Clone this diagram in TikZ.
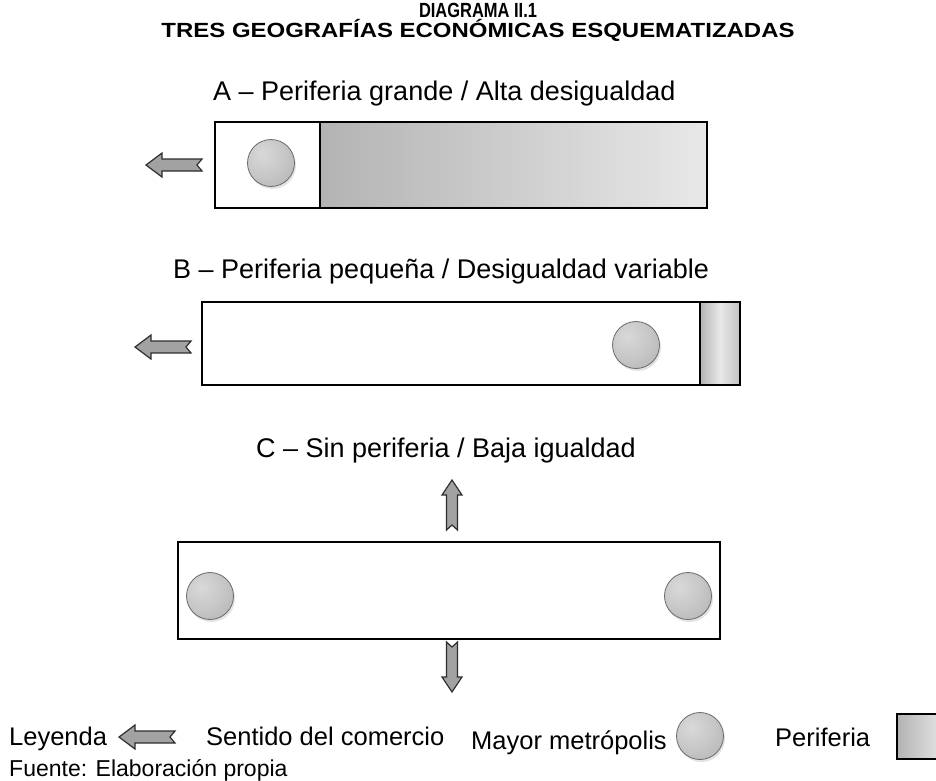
\documentclass[tikz,border=0pt]{standalone}
\usepackage{fontspec}
\setmainfont{Liberation Sans}
\usetikzlibrary{shadows}
\definecolor{arrowgray}{HTML}{A2A2A2}
\definecolor{arrowedge}{HTML}{2E2E2E}
\definecolor{circedge}{HTML}{6A6A6A}
\definecolor{perdark}{HTML}{B3B3B3}
\definecolor{perlight}{HTML}{E8E8E8}
\pgfdeclareradialshading{metroshade}{\pgfpoint{-10bp}{10bp}}{%
  color(0bp)=(gray!30); color(22bp)=(gray!44); color(45bp)=(gray!62); color(62bp)=(gray!76); color(100bp)=(gray!76)}
\tikzset{
  bodytext/.style={inner sep=0pt, font=\fontsize{25.5}{30}\selectfont},
  labeltext/.style={inner sep=0pt, font=\fontsize{27}{32}\selectfont},
  titletext/.style={inner sep=0pt, font=\fontsize{20.5}{24}\selectfont\bfseries},
  boxline/.style={draw=black, line width=1.6pt},
  metro/.style={circle, minimum size=47pt, inner sep=0pt, draw=circedge, line width=0.8pt,
     shading=metroshade,
     drop shadow={shadow xshift=1.5pt, shadow yshift=-2.5pt, opacity=0.22, fill=gray}},
  trade/.style={fill=arrowgray, draw=arrowedge, line width=1.2pt, line join=miter},
  harrow/.pic={\draw[trade] (0,0) -- (16,-12) -- (16,-6) -- (56,-6) -- (51,0) -- (56,6) -- (16,6) -- (16,12) -- cycle;},
  varrow/.pic={\draw[trade] (0,0) -- (-10,15) -- (-5.5,15) -- (-5.5,50) -- (0,45) -- (5.5,50) -- (5.5,15) -- (10,15) -- cycle;}
}
\begin{document}
\begin{tikzpicture}[x=1pt,y=-1pt]
\useasboundingbox (0,0) rectangle (936,780);
\fill[white] (0,0) rectangle (936,780);
% title
\node[titletext, anchor=base] (t1) at (478,17) {\resizebox{118pt}{\height}{DIAGRAMA II.1}};
\node[titletext, anchor=base] (t2) at (478,37) {\resizebox{633pt}{\height}{TRES GEOGRAFÍAS ECONÓMICAS ESQUEMATIZADAS}};
% A
\node[labeltext, anchor=base west] (la) at (213,100) {A – Periferia grande / Alta desigualdad};
\shade[left color=perdark, right color=perlight] (320,122) rectangle (707,208);
\draw[boxline] (215,122) rectangle (707,208);
\draw[boxline] (320,122) -- (320,208);
\node[metro] (ma) at (271,163) {};
\pic at (146,165) {harrow};
% B
\node[labeltext, anchor=base west] (lb) at (173,278) {B – Periferia pequeña / Desigualdad variable};
\shade[left color=perdark, right color=perdark!70!perlight, middle color=perlight] (700,302) rectangle (740,385);
\draw[boxline] (202,302) rectangle (740,385);
\draw[boxline] (700,302) -- (700,385);
\node[metro] (mb) at (636,345) {};
\pic at (135,347) {harrow};
% C
\node[labeltext, anchor=base] (lc) at (446,457) {C – Sin periferia / Baja igualdad};
\pic at (452,480) {varrow};
\draw[boxline] (178,542) rectangle (720,639);
\node[metro] (mc1) at (210,596) {};
\node[metro] (mc2) at (688,596) {};
\pic[yscale=-1] at (452,692) {varrow};
% legend
\node[bodytext, anchor=base west] (ley) at (9,745) {Leyenda};
\pic at (119,737) {harrow};
\node[bodytext, anchor=base west] (sen) at (206,745) {Sentido del comercio};
\node[bodytext, anchor=base west] (may) at (471,749) {Mayor metrópolis};
\node[metro] (ml) at (700,736) {};
\node[bodytext, anchor=base west] (per) at (775,746) {Periferia};
\shade[shading=axis, shading angle=45, left color=perdark, right color=perlight] (897,714) rectangle (945,759);
\draw[boxline] (897,714) rectangle (945,759);
\node[bodytext, anchor=base west, font=\fontsize{23}{28}\selectfont] (fue) at (9,776) {Fuente: Elaboración propia};
\end{tikzpicture}
\end{document}
